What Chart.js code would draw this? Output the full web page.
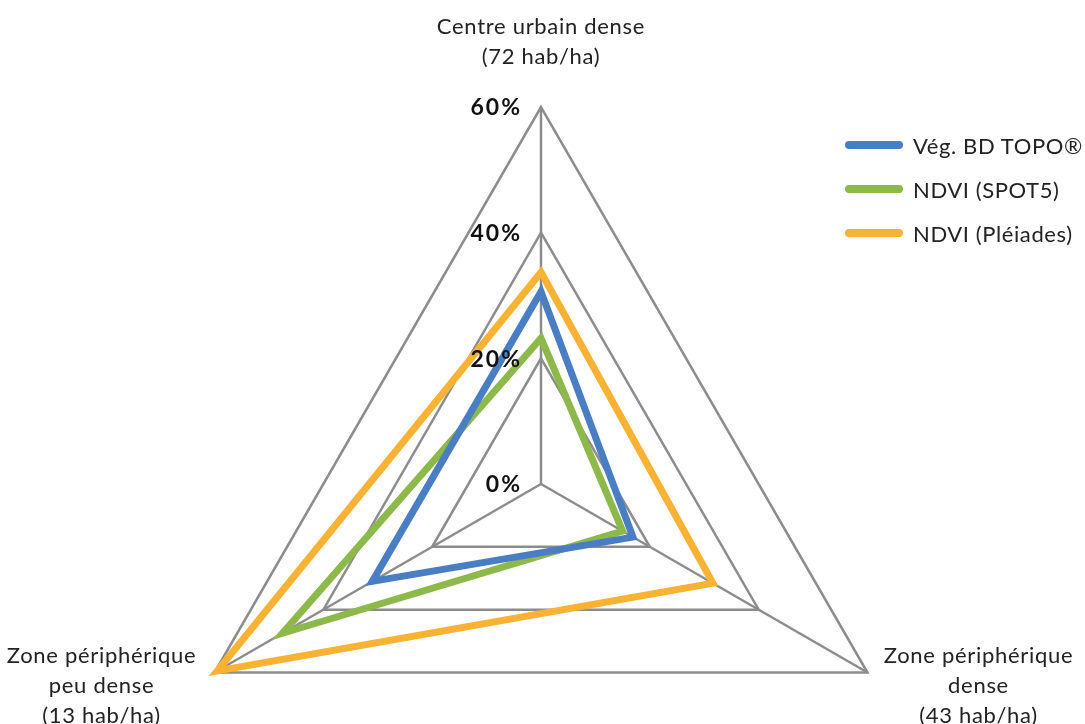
<!DOCTYPE html>
<html>
<head>
<meta charset="utf-8">
<script src="https://cdn.jsdelivr.net/npm/chart.js@4.4.1/dist/chart.umd.min.js"></script>
<style>
  html, body { margin: 0; padding: 0; background: #fff; overflow: hidden; }
  #wrap { position: relative; width: 1085px; height: 724px; }
  #legend { position: absolute; left: 845px; top: 123px; font-family: Lato, "Open Sans", sans-serif; font-size: 22px; letter-spacing: 0.6px; color: #222; }
  .leg-row { display: flex; align-items: center; height: 44px; }
  .leg-line { width: 58px; height: 8px; border-radius: 4px; margin-right: 10px; }
</style>
</head>
<body>
<div id="wrap">
  <canvas id="radar" width="1085" height="724"></canvas>
  <div id="legend"></div>
</div>
<script>
// ----------------------
// DATA
// ----------------------
const categories = [
  ["Centre urbain dense", "(72 hab/ha)"],
  ["Zone périphérique", "dense", "(43 hab/ha)"],
  ["Zone périphérique", "peu dense", "(13 hab/ha)"]
];
const seriesNames = ["Vég. BD TOPO®", "NDVI (SPOT5)", "NDVI (Pléiades)"];
const bdTopo = [30.6, 16.9, 31.0];
const ndviSpot5 = [23.2, 15.0, 47.5];
const ndviPleiades = [33.7, 31.6, 59.5];
const tickValues = [0, 20, 40, 60];

const colors = ['#4A7EC4', '#8DB84A', '#F9B233'];
const FONT = 'Lato, "Open Sans", sans-serif';

// ----------------------
// PLUGINS
// ----------------------

// place the radar like the original (triangle, not a circle)
const radarFit = {
  id: 'radarFit',
  afterLayout(chart) {
    const s = chart.scales.r;
    s.xCenter = 541;
    s.yCenter = 484;
    s.drawingArea = 377;
  }
};

// tick labels left of the vertical axis + category labels
const radarText = {
  id: 'radarText',
  afterDraw(chart) {
    const s = chart.scales.r;
    const ctx = chart.ctx;
    ctx.save();

    ctx.fillStyle = '#111';
    ctx.font = 'bold 23px ' + FONT;
    ctx.letterSpacing = '2px';
    ctx.textAlign = 'right';
    ctx.textBaseline = 'middle';
    tickValues.forEach(v => {
      const y = s.yCenter - s.getDistanceFromCenterForValue(v);
      ctx.fillText(v + '%', s.xCenter - 19, y + 1);
    });

    ctx.font = '22px ' + FONT;
    ctx.letterSpacing = '0.7px';
    ctx.fillStyle = '#222';
    ctx.textAlign = 'center';
    const offsets = [
      { dx: 0, dy: -80 },
      { dx: 111, dy: -17 },
      { dx: -113, dy: -17 }
    ];
    categories.forEach((lines, i) => {
      const p = s.getPointPosition(i, s.getDistanceFromCenterForValue(60));
      const o = offsets[i];
      lines.forEach((t, k) => {
        ctx.fillText(t, p.x + o.dx, p.y + o.dy + k * 30);
      });
    });
    ctx.restore();
  }
};

// ----------------------
// CHART
// ----------------------
const ctx = document.getElementById('radar').getContext('2d');

const chart = new Chart(ctx, {
  type: 'radar',
  data: {
    labels: categories,
    datasets: [bdTopo, ndviSpot5, ndviPleiades].map((d, i) => ({
      label: seriesNames[i],
      data: d,
      borderColor: colors[i],
      backgroundColor: colors[i],
      borderWidth: 7,
      borderJoinStyle: 'miter',
      pointRadius: 0,
      fill: false
    }))
  },
  options: {
    responsive: false,
    animation: false,
    plugins: {
      legend: { display: false },
      tooltip: { enabled: false }
    },
    scales: {
      r: {
        min: 0,
        max: 60,
        ticks: { stepSize: 20, display: false },
        pointLabels: { display: false },
        grid: { color: '#8c8c8c', lineWidth: 2.5 },
        angleLines: { color: '#8c8c8c', lineWidth: 2.5 }
      }
    }
  },
  plugins: [radarFit, radarText]
});

// html legend from the datasets
const legend = document.getElementById('legend');
chart.data.datasets.forEach(ds => {
  const row = document.createElement('div');
  row.className = 'leg-row';
  row.innerHTML = `<span class="leg-line" style="background:${ds.borderColor}"></span><span>${ds.label}</span>`;
  legend.appendChild(row);
});
</script>
</body>
</html>
